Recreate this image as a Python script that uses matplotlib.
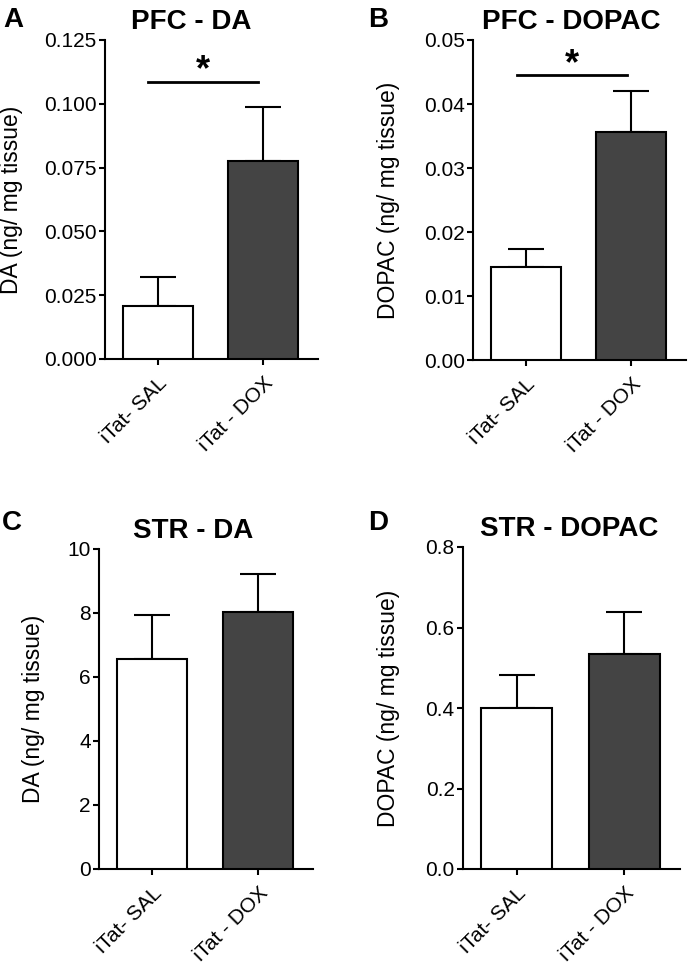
import matplotlib
matplotlib.use("Agg")
import matplotlib.pyplot as plt
import numpy as np
from matplotlib.ticker import FormatStrFormatter

# group labels
groups = ['iTat- SAL', 'iTat - DOX']

# PFC DA (ng/mg tissue), mean and SEM
pfc_da_mean = [0.0208, 0.0776]
pfc_da_sem = [0.0114, 0.0210]

# PFC DOPAC
pfc_dopac_mean = [0.0145, 0.0356]
pfc_dopac_sem = [0.0029, 0.0064]

# STR DA
str_da_mean = [6.56, 8.03]
str_da_sem = [1.38, 1.19]

# STR DOPAC
str_dopac_mean = [0.40, 0.535]
str_dopac_sem = [0.081, 0.103]

plt.rcParams['font.family'] = ['Liberation Sans', 'DejaVu Sans']

W, H = 690, 965
fig = plt.figure(figsize=(W / 100, H / 100), dpi=100)


def px_axes(left, top, right, bottom):
    return fig.add_axes([left / W, 1 - bottom / H, (right - left) / W, (bottom - top) / H])


def panel(ax, means, sems, title, ylabel, ymax, step, fmt, label_x, title_x):
    x = np.arange(len(groups))
    ax.bar(x, means, width=0.66, color=['white', '#444444'], edgecolor='black',
           linewidth=1.5, zorder=3)
    ax.errorbar(x, means, yerr=[np.zeros(len(sems)), sems], fmt='none', ecolor='black',
                elinewidth=1.5, capsize=13, capthick=1.5, zorder=2)
    ax.set_xlim(-0.5, 1.52)
    ax.set_ylim(0, ymax)
    ax.set_yticks(np.arange(0, ymax + step / 2, step))
    ax.yaxis.set_major_formatter(FormatStrFormatter(fmt))
    ax.set_xticks(x)
    ax.set_xticklabels(groups, rotation=45, ha='right', va='top', rotation_mode='anchor')
    for s in ['top', 'right']:
        ax.spines[s].set_visible(False)
    for s in ['left', 'bottom']:
        ax.spines[s].set_linewidth(1.5)
    ax.tick_params(axis='both', width=1.5, length=4.5, labelsize=15, pad=1.5)
    ax.tick_params(axis='x', pad=6)
    ax.set_title(title, fontsize=20, fontweight='bold', pad=8, x=title_x)
    ax.set_ylabel(ylabel, fontsize=16.5)
    ax.yaxis.set_label_coords(label_x, 0.5)


def sig(ax, x0, x1, y, ystar):
    ax.plot([x0, x1], [y, y], color='black', linewidth=2, clip_on=False)
    ax.text((x0 + x1) / 2, ystar, '*', ha='center', va='center', fontsize=26,
            fontweight='bold')


axA = px_axes(105, 40, 318, 359)
panel(axA, pfc_da_mean, pfc_da_sem, 'PFC - DA', 'DA (ng/ mg tissue)', 0.125, 0.025, '%.3f',
      -0.385, 0.404)
sig(axA, -0.09, 0.95, 0.1085, 0.1128)

axB = px_axes(473, 40, 686, 360)
panel(axB, pfc_dopac_mean, pfc_dopac_sem, 'PFC - DOPAC', 'DOPAC (ng/ mg tissue)', 0.05, 0.01, '%.2f',
      -0.343, 0.46)
sig(axB, -0.085, 0.96, 0.0445, 0.0462)

axC = px_axes(99, 549, 313, 869)
panel(axC, str_da_mean, str_da_sem, 'STR - DA', 'DA (ng/ mg tissue)', 10, 2, '%d',
      -0.252, 0.44)

axD = px_axes(463, 547, 680, 869)
panel(axD, str_dopac_mean, str_dopac_sem, 'STR - DOPAC', 'DOPAC (ng/ mg tissue)', 0.8, 0.2, '%.1f',
      -0.29, 0.488)

# panel letters
for letter, lx, ly in [('A', 3, 27), ('B', 368, 27), ('C', 2, 530), ('D', 368, 530)]:
    fig.text(lx / W, 1 - ly / H, letter, fontsize=20, fontweight='bold', va='baseline', ha='left')

fig.savefig('out.png', dpi=100)
